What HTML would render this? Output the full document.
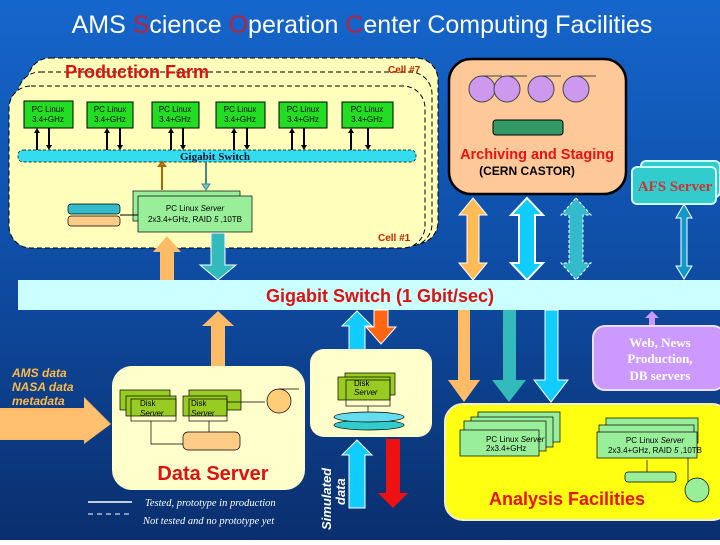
<!DOCTYPE html>
<html><head><meta charset="utf-8"><style>
body{margin:0;width:720px;height:540px;overflow:hidden}
.serif{font-family:"Liberation Serif",serif}
</style></head><body>
<svg width="720" height="540" viewBox="0 0 720 540" xmlns="http://www.w3.org/2000/svg" font-family="Liberation Sans, sans-serif">
<defs>
<linearGradient id="bg" x1="0" y1="0" x2="0" y2="1">
<stop offset="0" stop-color="#1566cc"/><stop offset="0.45" stop-color="#0f4fa8"/><stop offset="1" stop-color="#0a2f6e"/>
</linearGradient>
</defs>
<rect width="720" height="540" fill="url(#bg)"/>
<text x="362" y="33" text-anchor="middle" font-size="25" fill="#fff">AMS <tspan fill="#c0203a">S</tspan>cience <tspan fill="#c0203a">O</tspan>peration <tspan fill="#c0203a">C</tspan>enter Computing Facilities</text>

<!-- Production farm -->
<rect x="28" y="58" width="410" height="186" rx="22" fill="#ffffbb" stroke="#000" stroke-dasharray="5,3"/>
<rect x="18" y="72" width="414" height="174" rx="22" fill="#ffffbb" stroke="#000" stroke-dasharray="5,3"/>
<rect x="9" y="86" width="416" height="162" rx="22" fill="#ffffbb" stroke="#000" stroke-dasharray="5,3"/>
<text x="65" y="78" font-size="18" font-weight="bold" fill="#dd1111">Production Farm</text>
<text x="388" y="73" font-size="10" font-weight="bold" fill="#cc2200">Cell #7</text>
<text x="378" y="241" font-size="10" font-weight="bold" fill="#cc2200">Cell #1</text>
<g font-size="8" fill="#000" text-anchor="middle">
<rect x="24" y="101" width="49" height="27" fill="#22dd22" stroke="#000"/><text x="48" y="112">PC Linux</text><text x="48" y="122">3.4+GHz</text>
<rect x="87" y="102" width="46" height="26" fill="#22dd22" stroke="#000"/><text x="110" y="112">PC Linux</text><text x="110" y="122">3.4+GHz</text>
<rect x="152" y="102" width="47" height="26" fill="#22dd22" stroke="#000"/><text x="175" y="112">PC Linux</text><text x="175" y="122">3.4+GHz</text>
<rect x="216" y="102" width="49" height="26" fill="#22dd22" stroke="#000"/><text x="240" y="112">PC Linux</text><text x="240" y="122">3.4+GHz</text>
<rect x="279" y="102" width="48" height="26" fill="#22dd22" stroke="#000"/><text x="303" y="112">PC Linux</text><text x="303" y="122">3.4+GHz</text>
<rect x="342" y="102" width="51" height="26" fill="#22dd22" stroke="#000"/><text x="367" y="112">PC Linux</text><text x="367" y="122">3.4+GHz</text>
</g>
<g stroke="#000" stroke-width="2">
<path d="M37 150V132M49 128V146M107 150V132M120 128V146M171 150V132M183 128V146M234 150V132M247 128V146M292 150V132M304 128V146M351 150V132M368 128V146"/>
</g>
<g fill="#000">
<path d="M34 133h6l-3-5zM104 133h6l-3-5zM168 133h6l-3-5zM231 133h6l-3-5zM289 133h6l-3-5zM348 133h6l-3-5z"/>
<path d="M46 145h6l-3 5zM117 145h6l-3 5zM180 145h6l-3 5zM244 145h6l-3 5zM301 145h6l-3 5zM365 145h6l-3 5z"/>
</g>
<rect x="18" y="150" width="398" height="12" rx="5" fill="#33ddee" stroke="#000" stroke-dasharray="3,2" stroke-width="0.7"/>
<text x="215" y="160" text-anchor="middle" font-size="11" font-weight="bold" class="serif" fill="#113">Gigabit Switch</text>
<path d="M162 190V166h-3l3-4 3 4h-3" fill="#ffaa44" stroke="#aa6600" stroke-width="2"/>
<path d="M206 162V186" stroke="#448888" stroke-width="2"/><path d="M202 184h8l-4 6z" fill="#66cccc" stroke="#448888"/>
<rect x="133" y="191" width="107" height="30" fill="#99ee99" stroke="#000" stroke-width="0.7"/>
<rect x="138" y="196" width="114" height="36" fill="#99ee99" stroke="#000" stroke-width="0.7"/>
<text x="195" y="211" text-anchor="middle" font-size="8">PC Linux <tspan font-style="italic">Server</tspan></text>
<text x="195" y="222" text-anchor="middle" font-size="8">2x3.4+GHz, RAID <tspan font-style="italic">5</tspan> ,10TB</text>
<rect x="68" y="204" width="52" height="10" rx="3" fill="#33bbcc" stroke="#000" stroke-width="0.7"/>
<rect x="68" y="216" width="52" height="10" rx="3" fill="#ffcc88" stroke="#000" stroke-width="0.7"/>
<path d="M120 215H138" stroke="#000"/>

<!-- Archiving -->
<rect x="449" y="59" width="177" height="135" rx="22" fill="#ffc898" stroke="#000" stroke-width="2.5"/>
<g fill="#cc99ee" stroke="#444"><circle cx="482" cy="89" r="13"/><circle cx="507" cy="89" r="13"/><circle cx="541" cy="89" r="13"/><circle cx="576" cy="89" r="13"/></g>
<path d="M482 76h20M507 76h20M541 76h20M576 76h20" stroke="#444"/>
<rect x="493" y="120" width="70" height="15" rx="3" fill="#339966" stroke="#000"/>
<text x="537" y="159" text-anchor="middle" font-size="14.5" font-weight="bold" fill="#ee1111">Archiving and Staging</text>
<text x="527" y="175" text-anchor="middle" font-size="12" font-weight="bold" fill="#000">(CERN CASTOR)</text>
<!-- AFS -->
<rect x="641" y="161" width="79" height="36" rx="5" fill="#33cccc" stroke="#ccffff" stroke-width="2"/>
<rect x="632" y="167" width="84" height="37" rx="5" fill="#33cccc" stroke="#ccffff" stroke-width="2"/>
<text x="675" y="191" text-anchor="middle" font-size="15" font-weight="bold" fill="#cc3333" class="serif">AFS Server</text>

<!-- Double arrows -->
<polygon points="473,198 487,215 479,215 479,263 487,263 473,280 459,263 467,263 467,215 459,215" fill="#ffbb55" stroke="#fff"/>
<polygon points="527,198 543,215 535,215 535,263 543,263 527,280 511,263 519,263 519,215 511,215" fill="#11ccff" stroke="#fff" stroke-width="2"/>
<polygon points="576,198 591,215 583,215 583,263 591,263 576,280 561,263 569,263 569,215 561,215" fill="#33bbcc" stroke="#fff" stroke-dasharray="3,2"/>
<polygon points="684,204 692,218 687,218 687,266 692,266 684,279 676,266 681,266 681,218 676,218" fill="#1199cc" stroke="#fff"/>

<!-- Farm to switch arrows -->
<polygon points="160,280 160,252 153,252 167,236 181,252 174,252 174,280" fill="#ffbb66"/>
<polygon points="211,233 225,233 225,265 236,265 218,280 200,265 211,265" fill="#33bbbb" stroke="#fff"/>

<!-- big switch -->
<rect x="18" y="280" width="702" height="30" fill="#ccffff"/>
<text x="380" y="302" text-anchor="middle" font-size="18" font-weight="bold" fill="#dd1111">Gigabit Switch  (1 Gbit/sec)</text>

<!-- below switch arrows -->
<polygon points="211,367 211,326 202,326 218,311 234,326 225,326 225,367" fill="#ffbb66"/>
<polygon points="349,350 349,326 342,326 357,311 372,326 365,326 365,350" fill="#11ccff" stroke="#fff"/>
<polygon points="374,310 388,310 388,327 396,327 381,344 366,327 374,327" fill="#ff6611" stroke="#fff"/>
<polygon points="458,310 470,310 470,380 480,380 464,402 448,380 458,380" fill="#ffbb66"/>
<polygon points="503,310 516,310 516,380 526,380 509,402 492,380 503,380" fill="#33bbbb"/>
<polygon points="545,310 558,310 558,380 568,380 551,402 534,380 545,380" fill="#11ccff" stroke="#fff"/>
<polygon points="649,328 649,318 645,318 652,311 659,318 655,318 655,328" fill="#cc99ff"/>

<!-- Web news -->
<rect x="593" y="326" width="132" height="64" rx="12" fill="#cc99ff" stroke="#eeddff" stroke-width="2"/>
<g font-size="13" font-weight="bold" fill="#fff" text-anchor="middle" class="serif">
<text x="660" y="347">Web, News</text><text x="660" y="363">Production,</text><text x="660" y="380">DB servers</text></g>

<!-- AMS data -->
<g font-size="12" font-weight="bold" font-style="italic" fill="#ffbb44"><text x="12" y="377">AMS data</text><text x="12" y="391">NASA data</text><text x="12" y="405">metadata</text></g>
<polygon points="0,408 84,408 84,397 111,424 84,444 84,440 0,440" fill="#ffbb66"/>
<polygon points="0,411 84,411 84,400 109,424 84,441 84,438 0,438" fill="#ffc070"/>

<!-- Data server -->
<rect x="112" y="366" width="193" height="124" rx="20" fill="#ffffcc"/>
<g stroke="#000" stroke-width="0.7">
<rect x="120" y="390" width="50" height="20" fill="#99cc22"/><rect x="126" y="396" width="50" height="20" fill="#99cc22"/><rect x="131" y="399" width="45" height="22" fill="none"/>
<rect x="189" y="390" width="52" height="20" fill="#99cc22"/><rect x="183" y="396" width="44" height="20" fill="#99cc22"/><rect x="189" y="399" width="38" height="22" fill="none"/>
<path d="M151 421V444H183M209 421V432M227 402H265" fill="none"/>
<rect x="183" y="432" width="57" height="18" rx="5" fill="#ffcc88"/>
<circle cx="279" cy="401" r="12" fill="#ffcc77"/><path d="M279 389h20" />
</g>
<g font-size="8"><text x="140" y="406">Disk</text><text x="140" y="416" font-style="italic">Server</text><text x="191" y="406">Disk</text><text x="191" y="416" font-style="italic">Server</text></g>
<text x="213" y="480" text-anchor="middle" font-size="20" font-weight="bold" fill="#dd1111">Data Server</text>

<!-- small box -->
<rect x="310" y="349" width="122" height="88" rx="14" fill="#ffffcc"/>
<g stroke="#000" stroke-width="0.7">
<rect x="345" y="373" width="50" height="22" fill="#99cc22"/><rect x="338" y="377" width="52" height="23" fill="#99cc22"/><rect x="346" y="380" width="44" height="26" fill="none"/>
<path d="M368 406V417"/>
<ellipse cx="369" cy="425" rx="35" ry="5" fill="#33cccc"/><ellipse cx="369" cy="417" rx="35" ry="5" fill="#66ddee"/>
</g>
<g font-size="8"><text x="354" y="386">Disk</text><text x="354" y="395" font-style="italic">Server</text></g>
<polygon points="349,508 349,455 342,455 357,440 372,455 365,455 365,508" fill="#11ccff" stroke="#fff"/>
<polygon points="386,439 400,439 400,493 408,493 393,508 378,493 386,493" fill="#ee1111"/>
<text transform="translate(331,530) rotate(-90)" font-size="13" font-weight="bold" font-style="italic" fill="#fff">Simulated</text>
<text transform="translate(345,505) rotate(-90)" font-size="13" font-weight="bold" font-style="italic" fill="#fff">data</text>

<!-- Analysis -->
<rect x="445" y="404" width="285" height="116" rx="18" fill="#ffff11" stroke="#eeeecc" stroke-width="2"/>
<g stroke="#000" stroke-width="0.7" fill="#99ee99">
<rect x="478" y="412" width="82" height="30"/><rect x="471" y="417" width="82" height="30"/><rect x="464" y="421" width="82" height="30"/><rect x="460" y="430" width="79" height="26"/>
<rect x="606" y="418" width="92" height="25"/><rect x="599" y="425" width="95" height="25"/><rect x="597" y="432" width="100" height="26"/>
<path d="M647 460V472M688 458V488"/>
<rect x="625" y="472" width="51" height="10" rx="3"/>
<circle cx="697" cy="490" r="12"/>
</g>
<g font-size="8"><text x="486" y="442">PC Linux <tspan font-style="italic">Server</tspan></text><text x="486" y="451">2x3.4+GHz</text>
<text x="655" y="443" text-anchor="middle">PC Linux <tspan font-style="italic">Server</tspan></text><text x="655" y="453" text-anchor="middle">2x3.4+GHz, RAID <tspan font-style="italic">5</tspan> ,10TB</text></g>
<text x="567" y="505" text-anchor="middle" font-size="18" font-weight="bold" fill="#ee1111">Analysis Facilities</text>

<!-- legend -->
<path d="M88 502H132" stroke="#fff" stroke-width="1.5"/>
<path d="M88 514H132" stroke="#fff" stroke-dasharray="5,4"/>
<g font-size="10.5" font-style="italic" fill="#fff" class="serif"><text x="145" y="506">Tested, prototype in production</text><text x="143" y="524">Not tested and no prototype yet</text></g>
</svg>
</body></html>
